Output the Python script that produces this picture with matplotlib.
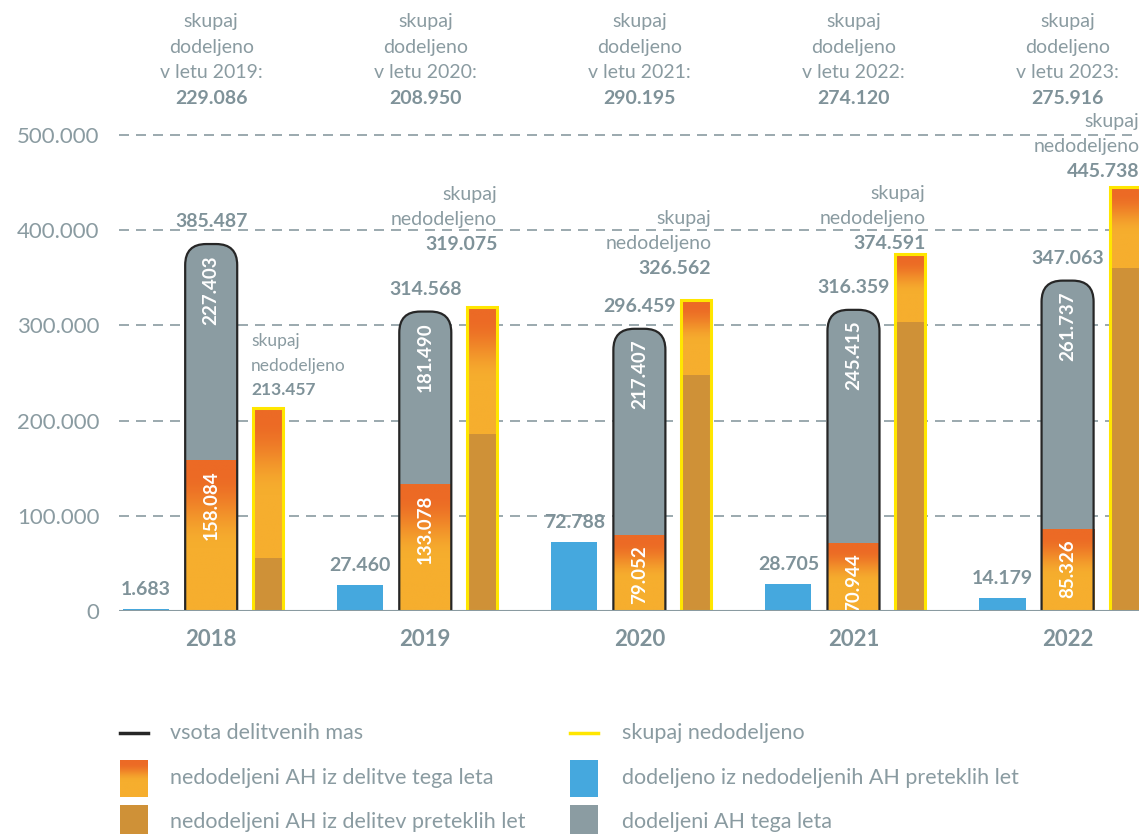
import numpy as np
import matplotlib.pyplot as plt
from matplotlib.patches import Rectangle, FancyBboxPatch
from matplotlib.colors import to_rgb
from matplotlib.lines import Line2D

plt.rcParams['font.family'] = ['Lato', 'DejaVu Sans']

# data
years = ['2018', '2019', '2020', '2021', '2022']
next_years = ['2019', '2020', '2021', '2022', '2023']
alloc_prev_years = [1683, 27460, 72788, 28705, 14179]          # blue
unalloc_this_year = [158084, 133078, 79052, 70944, 85326]      # orange gradient
alloc_this_year = [227403, 181490, 217407, 245415, 261737]     # gray
total_mass = [385487, 314568, 296459, 316359, 347063]           # black outline
unalloc_prev_years = [55373, 185997, 247510, 303647, 360412]    # brown
total_unalloc = [213457, 319075, 326562, 374591, 445738]        # yellow outline
total_alloc_next = [229086, 208950, 290195, 274120, 275916]

# label placement for "skupaj nedodeljeno" numbers (y in data units)
unalloc_label_y = [232000, 384500, 360000, 386500, 462000]

GRAY_TXT = '#8a9ba1'
NUM_TXT = '#7f9299'
C_GRAY = '#8b9ca2'
C_BLUE = '#45a8de'
C_BROWN = '#cf9137'
C_ORANGE = '#ec6a25'
C_LIGHT = '#f6ae2e'
C_YELLOW = '#ffe600'


def fmt(v):
    return f"{v:,}".replace(',', '.')


def gradient(n=200):
    t = np.linspace(0, 1, n)
    s = np.clip((t - 0.08) / 0.5, 0, 1)
    s = s * s * (3 - 2 * s)
    a, b = np.array(to_rgb(C_ORANGE)), np.array(to_rgb(C_LIGHT))
    g = a[None, :] * (1 - s[:, None]) + b[None, :] * s[:, None]
    return g[:, None, :]


fig = plt.figure(figsize=(11.39, 8.34), dpi=100)
ax = fig.add_axes([119 / 1139, 1 - 611 / 834, 1 - 119 / 1139, 495 / 834])
ax.set_xlim(-0.4306, 4.3336)
ax.set_ylim(0, 520000)
for s in ax.spines.values():
    s.set_visible(False)

for g in [100000, 200000, 300000, 400000, 500000]:
    ax.axhline(g, color=GRAY_TXT, lw=1.2, ls=(0, (6, 4.2)), zorder=0)
ax.axhline(0, color=GRAY_TXT, lw=1.5, zorder=6)

ax.set_yticks([0, 100000, 200000, 300000, 400000, 500000])
ax.set_yticklabels([fmt(v) for v in ax.get_yticks().astype(int)])
ax.tick_params(axis='y', length=0, pad=14, labelsize=16, labelcolor=GRAY_TXT)
ax.set_xticks(range(len(years)))
ax.set_xticklabels(years, fontweight='bold')
ax.tick_params(axis='x', length=0, pad=13, labelsize=16, labelcolor=NUM_TXT)

# pixel scale for rounded tops
p = ax.transData.transform([[0, 0], [1, 100000]])
px_x = p[1, 0] - p[0, 0]
px_y = (p[1, 1] - p[0, 1]) / 100000
r_px = 21
r = r_px / px_x
masp = px_x / px_y

bw_blue, bw_stack, bw_yel = 0.215, 0.243, 0.14
off_blue, off_yel = -0.304, 0.266
grad = gradient()

for i in range(len(years)):
    # blue
    xb = i + off_blue
    ax.bar(xb, alloc_prev_years[i], width=bw_blue, color=C_BLUE, zorder=2)
    ax.annotate(fmt(alloc_prev_years[i]), (xb, alloc_prev_years[i]), xytext=(0, 11),
                textcoords='offset pixels', ha='center', va='bottom',
                fontsize=14, fontweight='bold', color=NUM_TXT)

    # stacked rounded bar
    x0 = i - bw_stack / 2
    top = total_mass[i]
    body = FancyBboxPatch((x0, -60000), bw_stack, top + 60000,
                          boxstyle=f"round,pad=0,rounding_size={r}",
                          mutation_aspect=masp, fc=C_GRAY, ec='none', zorder=2)
    ax.add_patch(body)
    ax.imshow(grad, extent=(x0, x0 + bw_stack, 0, unalloc_this_year[i]),
              aspect='auto', origin='upper', zorder=3, interpolation='bilinear')
    outline = FancyBboxPatch((x0, -60000), bw_stack, top + 60000,
                             boxstyle=f"round,pad=0,rounding_size={r}",
                             mutation_aspect=masp, fc='none', ec='#262626',
                             lw=1.6, zorder=4)
    ax.add_patch(outline)
    ax.annotate(fmt(unalloc_this_year[i]), (i, unalloc_this_year[i]), xytext=(0, -10),
                textcoords='offset pixels', ha='center', va='top', rotation=90,
                fontsize=13.5, fontweight='bold', color='white', zorder=5)
    ax.annotate(fmt(top), (i, top), xytext=(0, 14),
                textcoords='offset pixels', ha='center', va='bottom',
                fontsize=14, fontweight='bold', color=NUM_TXT)
    ax.annotate(fmt(alloc_this_year[i]), (i, top), xytext=(0, -11),
                textcoords='offset pixels', ha='center', va='top', rotation=90,
                fontsize=13.5, fontweight='bold', color='white', zorder=5)

    # yellow-outlined unallocated bar
    xy = i + off_yel
    ax.bar(xy, unalloc_prev_years[i], width=bw_yel, color=C_BROWN, zorder=2)
    ax.imshow(grad, extent=(xy - bw_yel / 2, xy + bw_yel / 2, unalloc_prev_years[i],
                            total_unalloc[i]),
              aspect='auto', origin='upper', zorder=3, interpolation='bilinear')
    ax.add_patch(Rectangle((xy - bw_yel / 2, 0), bw_yel, total_unalloc[i], fc='none',
                           ec=C_YELLOW, lw=2.2, zorder=4))

    # "skupaj nedodeljeno" label
    if i == 0:
        lx, ha, fs, sp = xy - bw_yel / 2 - 0.01, 'left', 12.5, 24.5
    else:
        lx, ha, fs, sp = xy + bw_yel / 2, 'right', 14, 25
    ly = unalloc_label_y[i]
    ax.annotate(fmt(total_unalloc[i]), (lx, ly), ha=ha, va='center', fontsize=fs,
                fontweight='bold', color=NUM_TXT, annotation_clip=False)
    ax.annotate('nedodeljeno', (lx, ly), xytext=(0, sp), textcoords='offset pixels',
                ha=ha, va='center', fontsize=fs, color=GRAY_TXT, annotation_clip=False)
    ax.annotate('skupaj', (lx, ly), xytext=(0, 2 * sp), textcoords='offset pixels',
                ha=ha, va='center', fontsize=fs, color=GRAY_TXT, annotation_clip=False)

    # top "skupaj dodeljeno" labels
    lines = ['skupaj', 'dodeljeno', f'v letu {next_years[i]}:']
    for k, t in enumerate(lines):
        ax.annotate(t, (i, 834 - 22 - 25 * k), xycoords=('data', 'figure pixels'),
                    ha='center', va='center', fontsize=14, color=GRAY_TXT,
                    annotation_clip=False)
    ax.annotate(fmt(total_alloc_next[i]), (i, 834 - 98), xycoords=('data', 'figure pixels'),
                ha='center', va='center', fontsize=14, fontweight='bold', color=NUM_TXT,
                annotation_clip=False)

ax.set_xlim(-0.4306, 4.3336)
ax.set_ylim(0, 520000)

# legend
lax = fig.add_axes([0, 0, 1, 120 / 834])
lax.set_xlim(0, 1139)
lax.set_ylim(834, 714)
lax.axis('off')
lax.add_line(Line2D([120, 148], [733, 733], color='#262626', lw=2.5))
lax.add_line(Line2D([570, 598], [733, 733], color=C_YELLOW, lw=2.5))
lax.imshow(grad, extent=(120, 148, 797, 760), aspect='auto', origin='upper')
lax.add_patch(Rectangle((570, 760), 28, 37, fc=C_BLUE))
lax.add_patch(Rectangle((120, 805), 28, 32, fc=C_BROWN, clip_on=False))
lax.add_patch(Rectangle((570, 805), 28, 32, fc=C_GRAY, clip_on=False))
lax.set_xlim(0, 1139)
lax.set_ylim(834, 714)
entries = [(170, 733, 'vsota delitvenih mas'), (622, 733, 'skupaj nedodeljeno'),
           (170, 778, 'nedodeljeni AH iz delitve tega leta'),
           (622, 778, 'dodeljeno iz nedodeljenih AH preteklih let'),
           (170, 822, 'nedodeljeni AH iz delitev preteklih let'),
           (622, 822, 'dodeljeni AH tega leta')]
for x, y, t in entries:
    lax.text(x, y, t, ha='left', va='center', fontsize=15.5, color=GRAY_TXT)

fig.savefig('out.png', dpi=100)
